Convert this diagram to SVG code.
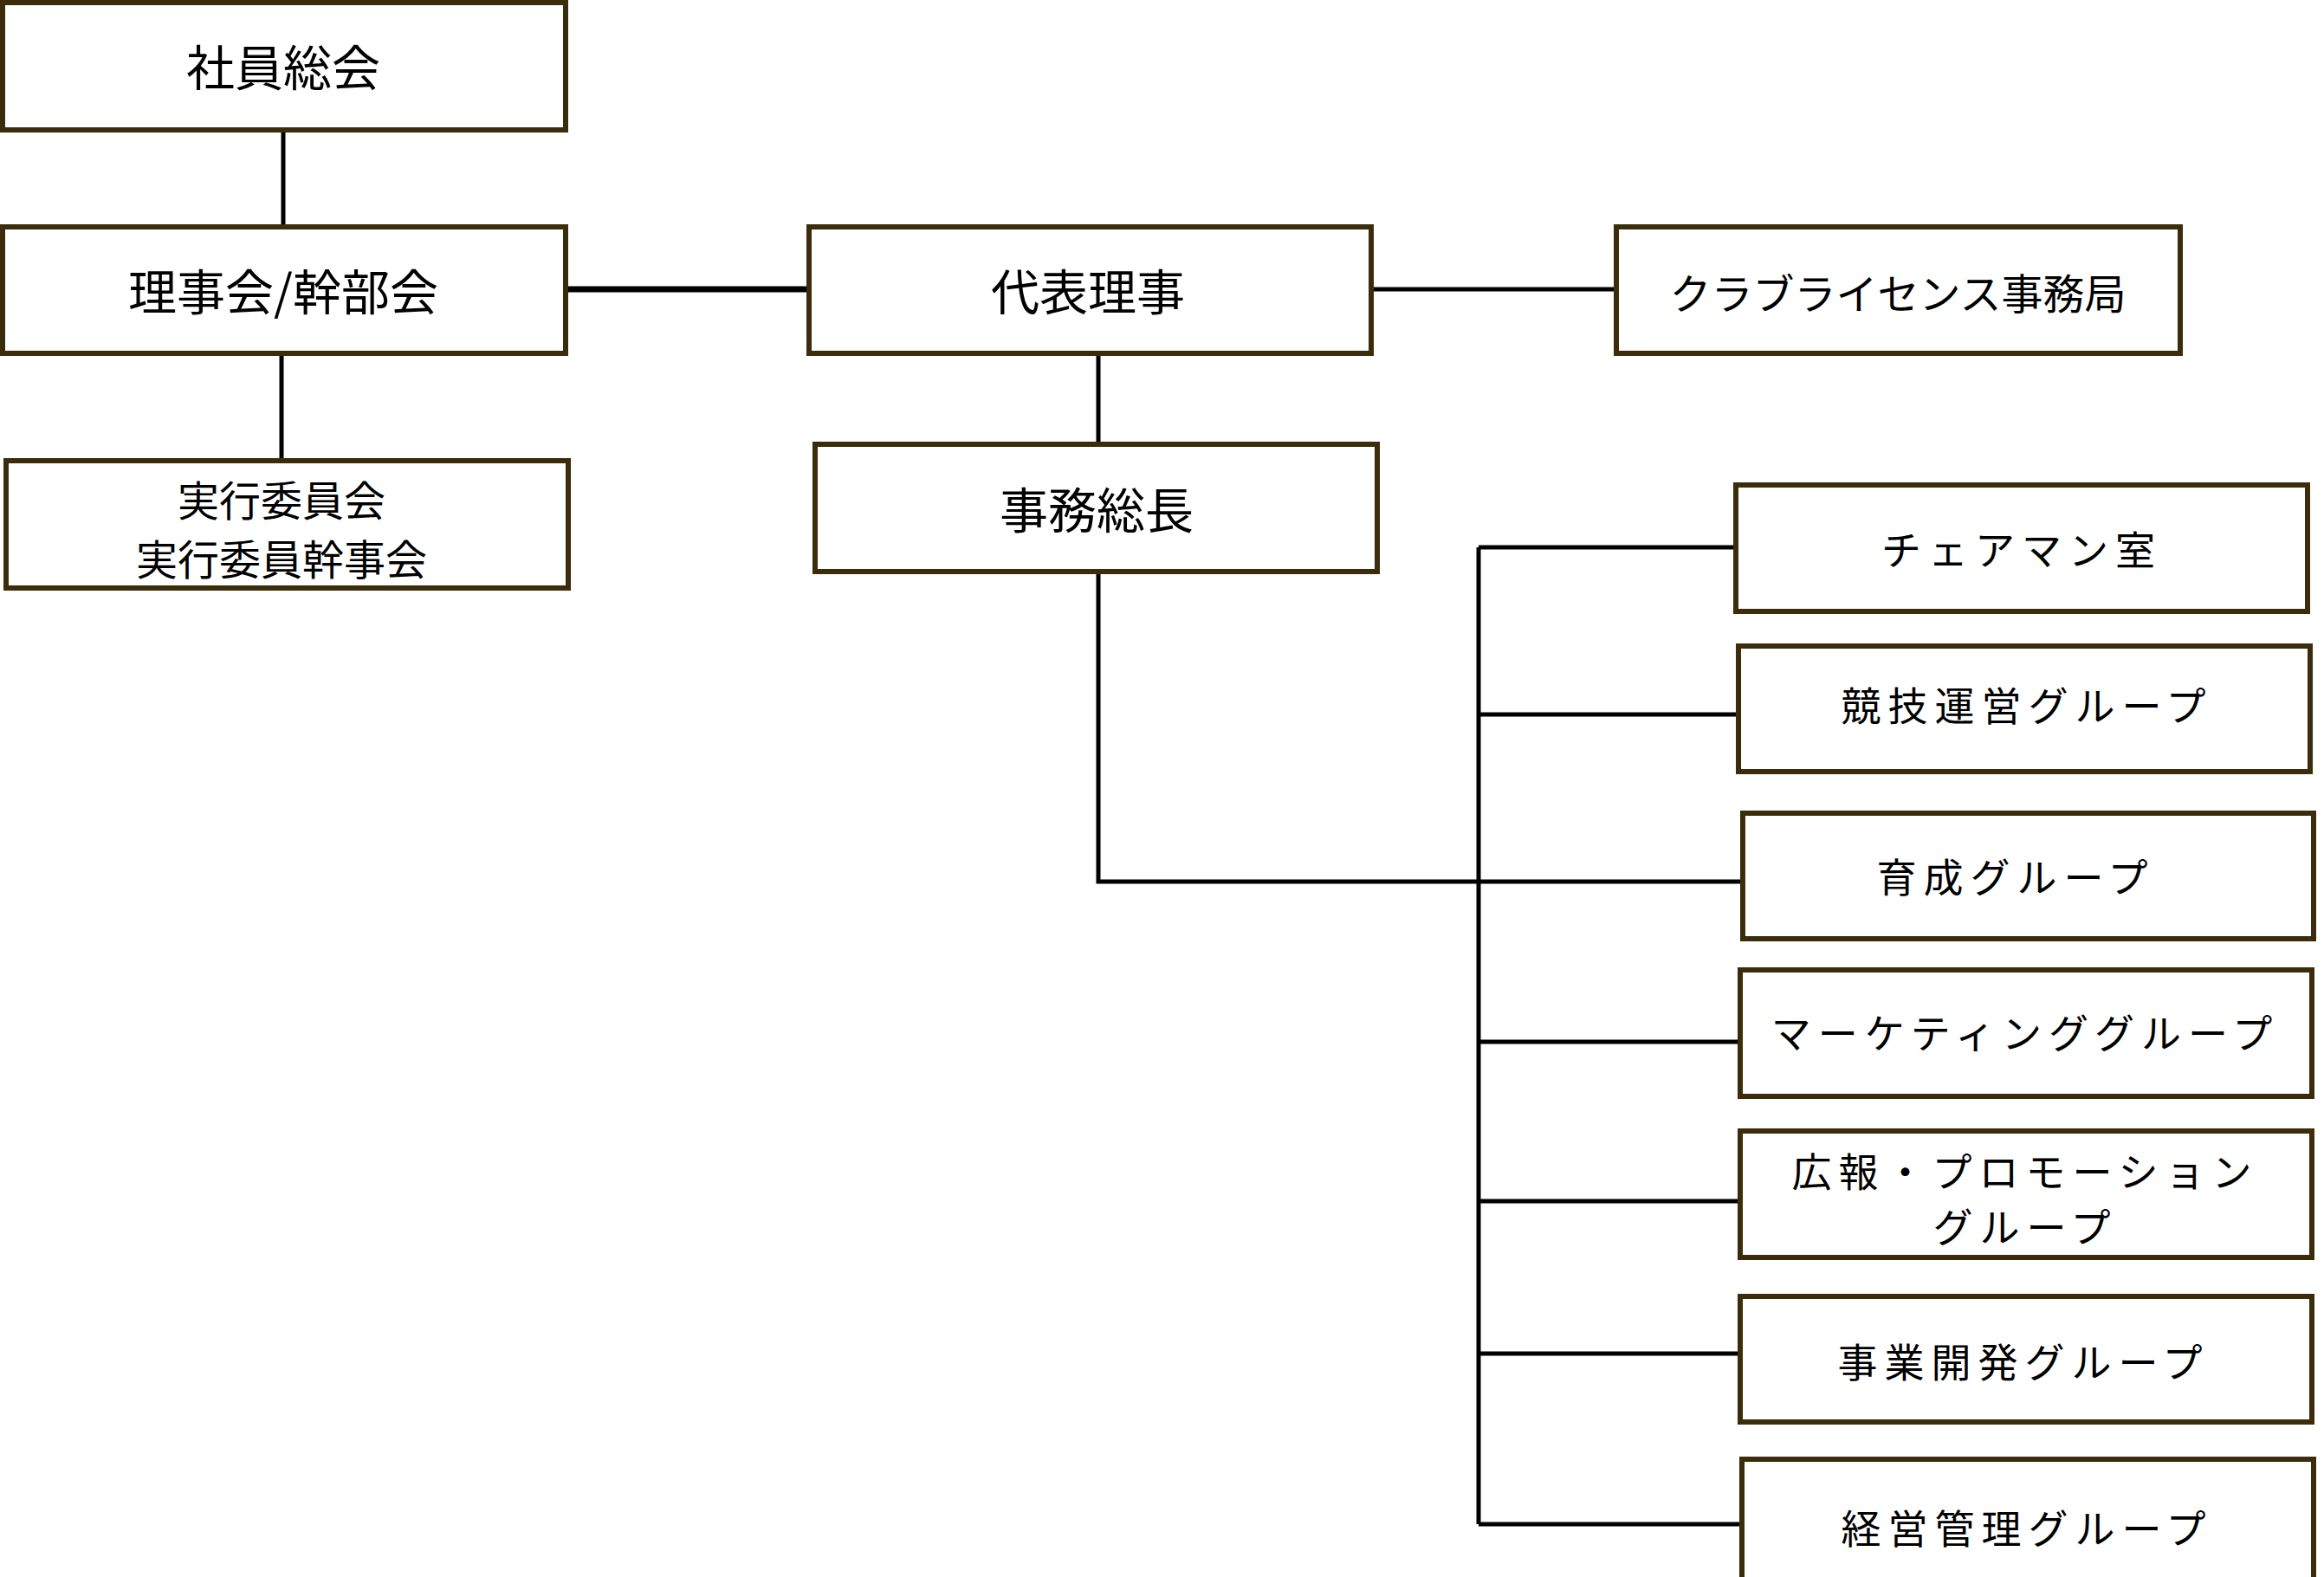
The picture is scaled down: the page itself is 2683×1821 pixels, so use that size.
<svg xmlns="http://www.w3.org/2000/svg" width="2683" height="1821" viewBox="0 0 2683 1821">
<style>
.b{fill:#fff;stroke:#3b2d0c;stroke-width:6}
.t{font-family:"Noto Sans CJK JP",sans-serif;fill:#000;text-anchor:middle;dominant-baseline:central}
.l{font-size:56px}
.g{font-size:46px;letter-spacing:8px}
.c{stroke:#000;stroke-width:5;fill:none}
</style>
<rect width="2683" height="1821" fill="#fff"/>
<g id="connectors">
<path class="c" d="M327 150V262M325 408V532M1268 408V513M1268 660V1018H2012M1707 632V1760M1707 632H2004M1707 825H2007M1707 1203H2009M1707 1387H2009M1707 1563H2009M1707 1760H2011M1583 334H1866"/>
<path d="M653 334H934" stroke="#000" stroke-width="7"/>
</g>
<g id="n1"><rect class="b" x="3" y="3" width="650" height="147"/><text class="t l" x="327" y="74">社員総会</text></g>
<g id="n2"><rect class="b" x="3" y="262" width="650" height="146"/><text class="t l" x="327" y="333">理事会/幹部会</text></g>
<g id="n3"><rect class="b" x="7" y="532" width="649" height="147"/><text class="t" font-size="48" x="325" y="575">実行委員会</text><text class="t" font-size="48" x="325" y="643">実行委員幹事会</text></g>
<g id="n4"><rect class="b" x="934" y="262" width="649" height="146"/><text class="t l" x="1256" y="333">代表理事</text></g>
<g id="n5"><rect class="b" x="1866" y="262" width="651" height="146"/><text class="t" font-size="48" x="2191" y="336">クラブライセンス事務局</text></g>
<g id="n6"><rect class="b" x="941" y="513" width="649" height="147"/><text class="t l" x="1266" y="585">事務総長</text></g>
<g id="n7"><rect class="b" x="2004" y="560" width="660" height="146"/><text class="t g" x="2334" y="632">チェアマン室</text></g>
<g id="n8"><rect class="b" x="2007" y="746" width="660" height="145"/><text class="t g" x="2340" y="812">競技運営グループ</text></g>
<g id="n9"><rect class="b" x="2012" y="939" width="659" height="145"/><text class="t g" x="2327" y="1010">育成グループ</text></g>
<g id="n10"><rect class="b" x="2009" y="1120" width="660" height="146"/><text class="t g" x="2338" y="1190">マーケティンググループ</text></g>
<g id="n11"><rect class="b" x="2009" y="1306" width="660" height="146"/><text class="t g" x="2338" y="1350">広報・プロモーション</text><text class="t g" x="2338" y="1414">グループ</text></g>
<g id="n12"><rect class="b" x="2009" y="1497" width="660" height="145"/><text class="t g" x="2336" y="1570">事業開発グループ</text></g>
<g id="n13"><rect class="b" x="2011" y="1685" width="660" height="150"/><text class="t g" x="2340" y="1762">経営管理グループ</text></g>
</svg>
